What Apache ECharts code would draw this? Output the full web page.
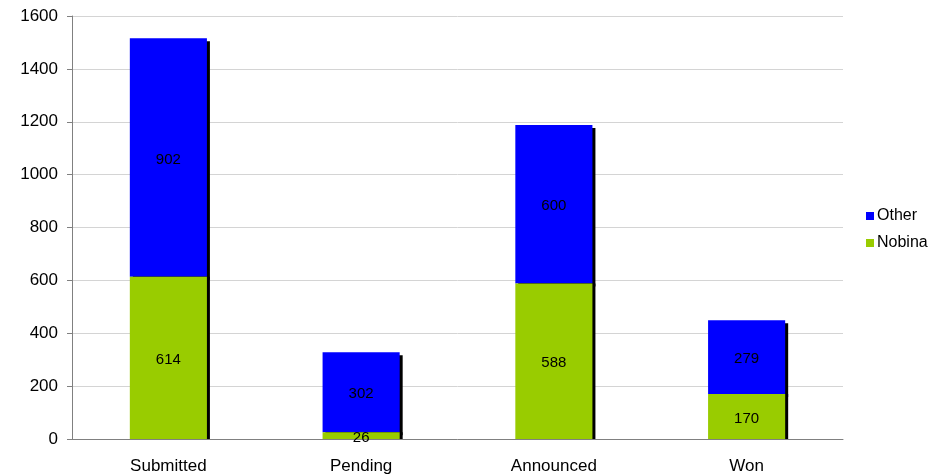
<!DOCTYPE html>
<html>
<head>
<meta charset="utf-8">
<script src="https://cdn.jsdelivr.net/npm/echarts@6/dist/echarts.min.js"></script>
<style>
  html, body { margin: 0; padding: 0; background: #fff; }
  #chart { width: 942px; height: 476px; }
</style>
</head>
<body>
<div id="chart"></div>
<script>
// Tender stages, split between Nobina and other bidders
const categories = ['Submitted', 'Pending', 'Announced', 'Won'];
const nobina = [614, 26, 588, 170];
const other = [902, 302, 600, 279];
const yTicks = { min: 0, max: 1600, step: 200 };

const font = 'Liberation Sans, Arial, sans-serif';

const chart = echarts.init(document.getElementById('chart'));
chart.setOption({
  animation: false,
  textStyle: { fontFamily: font },
  grid: { left: 72, right: 99, top: 16, bottom: 37 },
  legend: {
    orient: 'vertical',
    left: 861,
    top: 203,
    itemWidth: 8,
    itemHeight: 8,
    itemGap: 11,
    icon: 'rect',
    data: ['Other', 'Nobina'],
    textStyle: { fontFamily: font, fontSize: 16, color: '#000', padding: [0, 0, 0, -2] }
  },
  xAxis: {
    type: 'category',
    data: categories,
    axisLine: { lineStyle: { color: '#808080', width: 1 } },
    axisTick: { show: false },
    axisLabel: { fontFamily: font, fontSize: 17, color: '#000', margin: 19 }
  },
  yAxis: {
    type: 'value',
    min: yTicks.min,
    max: yTicks.max,
    interval: yTicks.step,
    axisLine: { show: true, lineStyle: { color: '#808080' } },
    axisTick: { show: true, length: 5, lineStyle: { color: '#808080' } },
    axisLabel: { fontFamily: font, fontSize: 17, color: '#000', margin: 14, formatter: (v) => String(v) },
    splitLine: { lineStyle: { color: '#d4d4d4' } }
  },
  series: [
    {
      name: 'Nobina',
      type: 'bar',
      stack: 'total',
      z: 3,
      barWidth: '40%',
      data: nobina,
      itemStyle: { color: '#99cc00', shadowColor: '#000', shadowBlur: 0, shadowOffsetX: 3, shadowOffsetY: 0 },
      label: { show: true, position: 'inside', offset: [0, 2], color: '#000', fontSize: 15, fontFamily: font }
    },
    {
      name: 'Other',
      type: 'bar',
      stack: 'total',
      z: 2,
      barWidth: '40%',
      data: other,
      itemStyle: { color: '#0000ff', shadowColor: '#000', shadowBlur: 0, shadowOffsetX: 3, shadowOffsetY: 3 },
      label: { show: true, position: 'inside', offset: [0, 2], color: '#000', fontSize: 15, fontFamily: font }
    }
  ]
});
</script>
</body>
</html>
